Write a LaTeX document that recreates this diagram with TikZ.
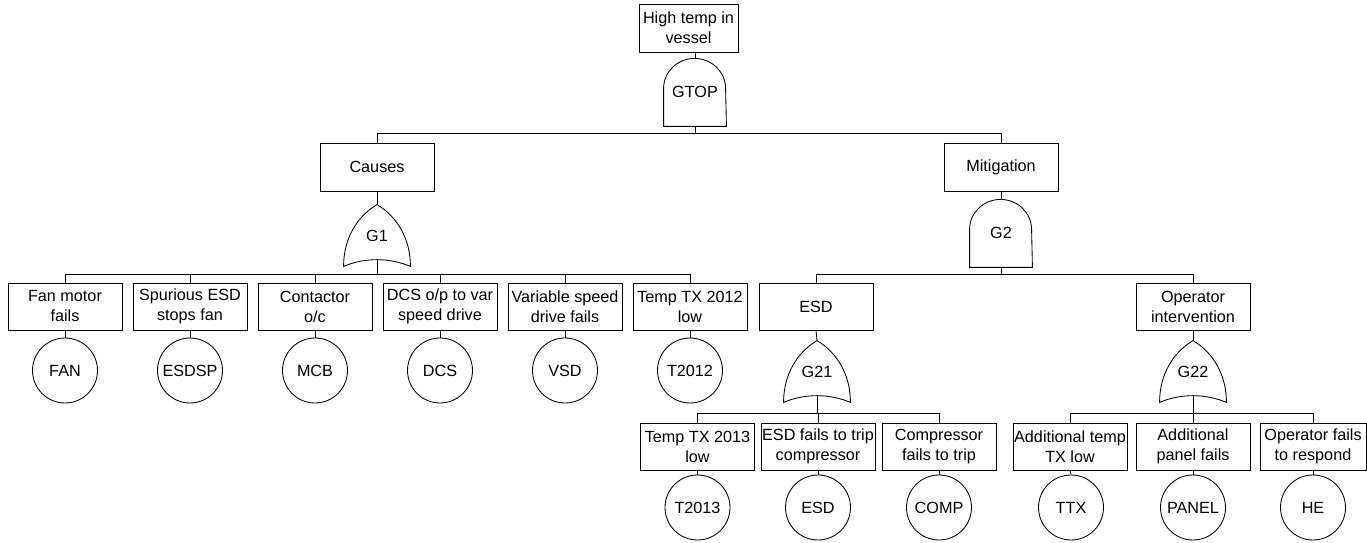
\documentclass[tikz,border=0pt]{standalone}
\usepackage{fontspec}
\setmainfont{Liberation Sans}
\newcommand\ftlabel{\fontsize{16.2}{20}\selectfont}
\begin{document}
\begin{tikzpicture}[x=1pt,y=1pt,line width=0.85pt,
  event/.style={draw, rectangle, minimum width=114pt, minimum height=47pt,
    inner sep=0pt, align=center, font=\ftlabel},
  basic/.style={draw, circle, minimum size=65pt, inner sep=0pt, font=\ftlabel},
  andgate/.style={inner sep=0pt, minimum width=62pt, minimum height=68pt, font=\ftlabel},
  orgate/.style={inner sep=0pt, minimum width=66pt, minimum height=61pt, font=\ftlabel},
]
\useasboundingbox (0,0) rectangle (1367,543);

% top event and its AND gate
\node[event, minimum width=99pt, minimum height=48pt] (top) at (688.5,515) {High temp in\\vessel};
\node[andgate] (gtop) at (695,451) {GTOP};

% second level
\node[event, minimum height=48pt] (causes) at (377,376) {Causes};
\node[event, minimum height=48pt] (mitig) at (1001,376) {Mitigation};
\node[orgate] (g1) at (377,307.5) {G1};
\node[andgate] (g2) at (1001,310) {G2};

% causes branch
\node[event] (fan) at (65,236.5) {Fan motor\\fails};
\node[event] (esdsp) at (190,236.5) {Spurious ESD\\stops fan};
\node[event] (contactor) at (315,236.5) {Contactor\\o/c};
\node[event] (dcs) at (440,236.5) {DCS o/p to var\\speed drive};
\node[event] (vsd) at (565,236.5) {Variable speed\\drive fails};
\node[event] (t2012) at (690,236.5) {Temp TX 2012\\low};

\node[basic] (bFAN) at (65,172.5) {FAN};
\node[basic] (bESDSP) at (190,172.5) {ESDSP};
\node[basic] (bMCB) at (315,172.5) {MCB};
\node[basic] (bDCS) at (440,172.5) {DCS};
\node[basic] (bVSD) at (565,172.5) {VSD};
\node[basic] (bT2012) at (690,172.5) {T2012};

% mitigation branch
\node[event] (esd) at (816,236.5) {ESD};
\node[event] (oper) at (1193,236.5) {Operator\\intervention};
\node[orgate] (g21) at (817,171.5) {G21};
\node[orgate] (g22) at (1193,171.5) {G22};

\node[event] (t2013) at (697.5,96.5) {Temp TX 2013\\low};
\node[event] (esdtrip) at (818,96.5) {ESD fails to trip\\compressor};
\node[event] (comp) at (939,96.5) {Compressor\\fails to trip};
\node[event] (addtemp) at (1070,96.5) {Additional temp\\TX low};
\node[event] (panel) at (1193,96.5) {Additional\\panel fails};
\node[event, minimum width=106pt] (opfail) at (1313,96.5) {Operator fails\\to respond};

\node[basic] (bT2013) at (697.5,35.5) {T2013};
\node[basic] (bESD) at (818,35.5) {ESD};
\node[basic] (bCOMP) at (939,35.5) {COMP};
\node[basic] (bTTX) at (1071,35.5) {TTX};
\node[basic] (bPANEL) at (1193,35.5) {PANEL};
\node[basic] (bHE) at (1313,35.5) {HE};

% gate outlines
\foreach \g in {gtop,g2}
  \draw (\g.south west) -- ++(0,38)
        arc[start angle=180, end angle=0, x radius=31, y radius=30]
        -- (\g.south east) -- cycle;
\foreach \g in {g1,g21,g22}
  \draw (\g.north) .. controls +(-20,-12) and +(0,28) .. (\g.south west)
        .. controls +(21,9) and +(-21,9) .. (\g.south east)
        .. controls +(0,28) and +(20,-12) .. (\g.north);

% event to gate links
\draw (top.south -| gtop.north) -- (gtop.north);
\draw (causes.south) -- (g1.north);
\draw (mitig.south) -- (g2.north);
\draw (esd.south) -- (g21.north);
\draw (oper.south) -- (g22.north);

% gate to input links
\foreach \c in {causes,mitig}
  \draw (gtop.south) |- ([yshift=9pt]\c.north) -- (\c.north);
\foreach \c in {fan,esdsp,contactor,dcs,vsd,t2012}
  \draw ([yshift=7pt]g1.south) |- ([yshift=8pt]\c.north) -- (\c.north);
\foreach \c in {esd,oper}
  \draw (g2.south) |- ([yshift=8pt]\c.north) -- (\c.north);
\foreach \c in {t2013,esdtrip,comp}
  \draw ([yshift=7pt]g21.south) |- ([yshift=9pt]\c.north) -- (\c.north);
\foreach \c in {addtemp,panel,opfail}
  \draw ([yshift=7pt]g22.south) |- ([yshift=9pt]\c.north) -- (\c.north);

% basic events
\foreach \e/\b in {fan/bFAN,esdsp/bESDSP,contactor/bMCB,dcs/bDCS,vsd/bVSD,t2012/bT2012,
                   t2013/bT2013,esdtrip/bESD,comp/bCOMP,addtemp/bTTX,panel/bPANEL,opfail/bHE}
  \draw (\e.south) -- (\b.north);
\end{tikzpicture}
\end{document}
